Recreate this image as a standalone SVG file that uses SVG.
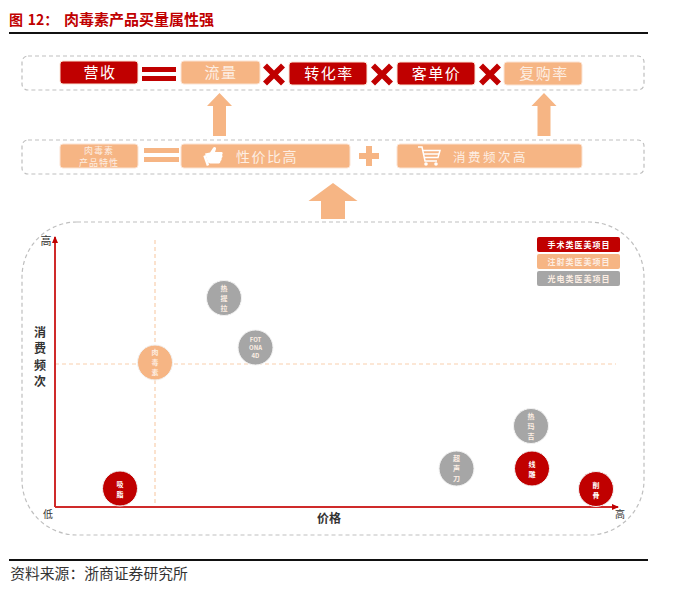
<svg xmlns="http://www.w3.org/2000/svg" width="700" height="591" viewBox="0 0 700 591">
<style>
text{font-family:"Noto Sans CJK SC","Noto Sans",sans-serif;text-anchor:middle}
.frame{fill:none;stroke:#bfbfbf;stroke-width:1.2;stroke-dasharray:4 3}
.red{fill:#c00000}.peach{fill:#f6b584}.gray{fill:#a6a6a6}
.b{stroke:#fbe3d3;stroke-width:1}
.w{fill:#fff}.p{fill:#fdeee3}
.t15{font-size:15px;letter-spacing:1.5px}
.c{font-size:7px;font-weight:700}
.l{font-size:8px;letter-spacing:1px;font-weight:700}
.k{fill:#333}
.guide{stroke:#f9cfae;stroke-width:1.2;stroke-dasharray:4 3;fill:none}
.axis{stroke:#cf2a2a;stroke-width:2;fill:none}
.bubble{stroke:#f3f3f3;stroke-width:1}
</style>
<defs>
<marker id="ah" markerWidth="7" markerHeight="6" refX="6" refY="3" orient="auto" markerUnits="userSpaceOnUse"><path d="M0 0L7 3L0 6z" fill="#c00000"/></marker>
<path id="x" d="M-7 -11L0 -4L7 -11L11 -7L4 0L11 7L7 11L0 4L-7 11L-11 7L-4 0L-11 -7z" fill="#c00000"/>
<path id="up" d="M0 0L12.500 13H6.500V43H-6.500V13H-12.500z" fill="#f6b584"/>
</defs>
<rect width="700" height="591" fill="#fff"/>

<g id="title"><text x="16" y="25" font-size="14" font-weight="700" fill="#c00000">图</text><text x="43" y="25" font-size="14" font-weight="700" fill="#c00000">12：</text><text x="139" y="25" font-size="15" font-weight="700" fill="#c00000">肉毒素产品买量属性强</text><rect x="9" y="32" width="639" height="2" fill="#111"/></g>

<g id="row1-frame"><rect class="frame" x="22" y="56" width="622" height="34" rx="6"/></g>
<g id="row2-frame"><rect class="frame" x="22" y="140" width="622" height="34" rx="6"/></g>
<g id="plot-frame"><rect class="frame" x="22" y="222" width="622" height="313" rx="55"/></g>

<g id="n-revenue"><rect class="red b" x="60" y="61" width="78" height="23" rx="3"/><text class="w t15" x="100" y="78">营收</text></g>
<g id="op-eq1" class="red"><rect x="142" y="67" width="34" height="5"/><rect x="142" y="76" width="34" height="5"/></g>
<g id="n-traffic"><rect class="peach b" x="181" y="61" width="79" height="23" rx="3"/><text class="p t15" x="221" y="78">流量</text></g>
<g id="op-x1"><use href="#x" x="274" y="74.500"/></g>
<g id="n-conv"><rect class="red b" x="289" y="62" width="78" height="23" rx="3"/><text class="w t15" x="329" y="79">转化率</text></g>
<g id="op-x2"><use href="#x" x="382" y="74.500"/></g>
<g id="n-price"><rect class="red b" x="397" y="62" width="78" height="23" rx="3"/><text class="w t15" x="436.500" y="79">客单价</text></g>
<g id="op-x3"><use href="#x" x="490" y="74.500"/></g>
<g id="n-repurchase"><rect class="peach b" x="504" y="62" width="78" height="23" rx="3"/><text class="p t15" x="544" y="79">复购率</text></g>

<g id="n-attr"><rect class="peach b" x="60" y="144" width="78" height="24" rx="3"/><text class="p" x="99" y="154" font-size="9" letter-spacing="1">肉毒素</text><text class="p" x="99" y="166" font-size="9" letter-spacing="1">产品特性</text></g>
<g id="op-eq2" class="peach"><rect x="144" y="148" width="35" height="5"/><rect x="144" y="157" width="35" height="5"/></g>
<g id="n-value"><rect class="peach b" x="181" y="144" width="169" height="24" rx="3"/><path d="M205 153.500L210 152.500L213 148C214 146 216.500 147 216 149L215 152H221.500C223 152 223 154 222 155C223 156 222.500 157.500 221.500 158C222 159 221.500 160.500 220.500 161C220.500 163 219.500 163.500 218 163.500H210L208 162.500z" fill="#fff"/><path d="M204.500 155.500L208 165.500" stroke="#fff" stroke-width="2.500" fill="none"/><text class="p" x="267" y="162" font-size="14" letter-spacing="1.500">性价比高</text></g>
<g id="op-plus"><path d="M366 146H372V153H379V159H372V166H366V159H359V153H366z" fill="#f6b584"/></g>
<g id="n-freq"><rect class="peach b" x="397" y="144" width="185" height="24" rx="3"/><path d="M418 147H422L425 161H437M423 150.500H440L438 157.500H424.500M424 154H439" stroke="#fff" stroke-width="1.500" fill="none"/><circle cx="426" cy="164" r="1.800" fill="#fff"/><circle cx="436" cy="164" r="1.800" fill="#fff"/><text class="p" x="490.500" y="161.500" font-size="12.500" letter-spacing="2.500">消费频次高</text></g>

<g id="connectors">
<use href="#up" x="219.500" y="93"/>
<use href="#up" x="544" y="93"/>
<path d="M333 183L357.500 201H345V219H321V201H308.500z" fill="#f6b584"/>
<path class="guide" d="M155 240V507"/>
<path class="guide" d="M55 364H616"/>
<path class="axis" d="M55 507V237" marker-end="url(#ah)"/>
<path class="axis" d="M55 507H618" marker-end="url(#ah)"/>
</g>

<g id="axis-labels">
<text class="k" x="46" y="245" font-size="11">高</text>
<text class="k" x="40" y="337" font-size="12" font-weight="700">消</text>
<text class="k" x="40" y="353" font-size="12" font-weight="700">费</text>
<text class="k" x="40" y="370" font-size="12" font-weight="700">频</text>
<text class="k" x="40" y="386" font-size="12" font-weight="700">次</text>
<text class="k" x="48" y="518" font-size="10">低</text>
<text class="k" x="329" y="523" font-size="12" font-weight="700">价格</text>
<text class="k" x="620" y="518" font-size="10">高</text>
</g>

<g id="legend-surgery"><rect class="red" x="537" y="237" width="83" height="15" rx="2"/><text class="w l" x="579" y="248">手术类医美项目</text></g>
<g id="legend-injection"><rect class="peach" x="537" y="254" width="83" height="15" rx="2"/><text class="p l" x="579" y="265">注射类医美项目</text></g>
<g id="legend-device"><rect class="gray" x="537" y="271" width="83" height="15" rx="2"/><text class="p l" x="579" y="282">光电类医美项目</text></g>

<g id="n-thermage-lift"><circle class="gray bubble" cx="224" cy="298" r="17.500"/><text class="p c" x="224" y="290.500">热</text><text class="p c" x="224" y="300.500">提</text><text class="p c" x="224" y="310.500">拉</text></g>
<g id="n-fotona"><circle class="gray bubble" cx="255.500" cy="347.500" r="17.500"/><text class="p" font-size="6" font-weight="700" x="255.500" y="342">FOT</text><text class="p" font-size="6" font-weight="700" x="255.500" y="350">ONA</text><text class="p" font-size="6" font-weight="700" x="255.500" y="358">4D</text></g>
<g id="n-botox"><circle class="peach bubble" cx="155" cy="362.500" r="17.500"/><text class="p c" x="155" y="355">肉</text><text class="p c" x="155" y="365">毒</text><text class="p c" x="155" y="375">素</text></g>
<g id="n-lipo"><circle class="red bubble" cx="120" cy="488.500" r="17.500"/><text class="w c" x="120" y="487">吸</text><text class="w c" x="120" y="497">脂</text></g>
<g id="n-ultrasound"><circle class="gray bubble" cx="456.500" cy="468.500" r="17.500"/><text class="p c" x="456.500" y="461">超</text><text class="p c" x="456.500" y="471">声</text><text class="p c" x="456.500" y="481">刀</text></g>
<g id="n-thermage"><circle class="gray bubble" cx="531" cy="426" r="17.500"/><text class="p c" x="531" y="419">热</text><text class="p c" x="531" y="429">玛</text><text class="p c" x="531" y="439">吉</text></g>
<g id="n-thread"><circle class="red bubble" cx="532" cy="468.500" r="17.500"/><text class="w c" x="532" y="467">线</text><text class="w c" x="532" y="477">雕</text></g>
<g id="n-bone"><circle class="red bubble" cx="596" cy="489" r="17.500"/><text class="w c" x="596" y="488">削</text><text class="w c" x="596" y="498">骨</text></g>

<g id="footer"><rect x="9" y="559" width="639" height="2" fill="#111"/><text x="99" y="579" font-size="14.800" fill="#333">资料来源：浙商证券研究所</text></g>
</svg>
